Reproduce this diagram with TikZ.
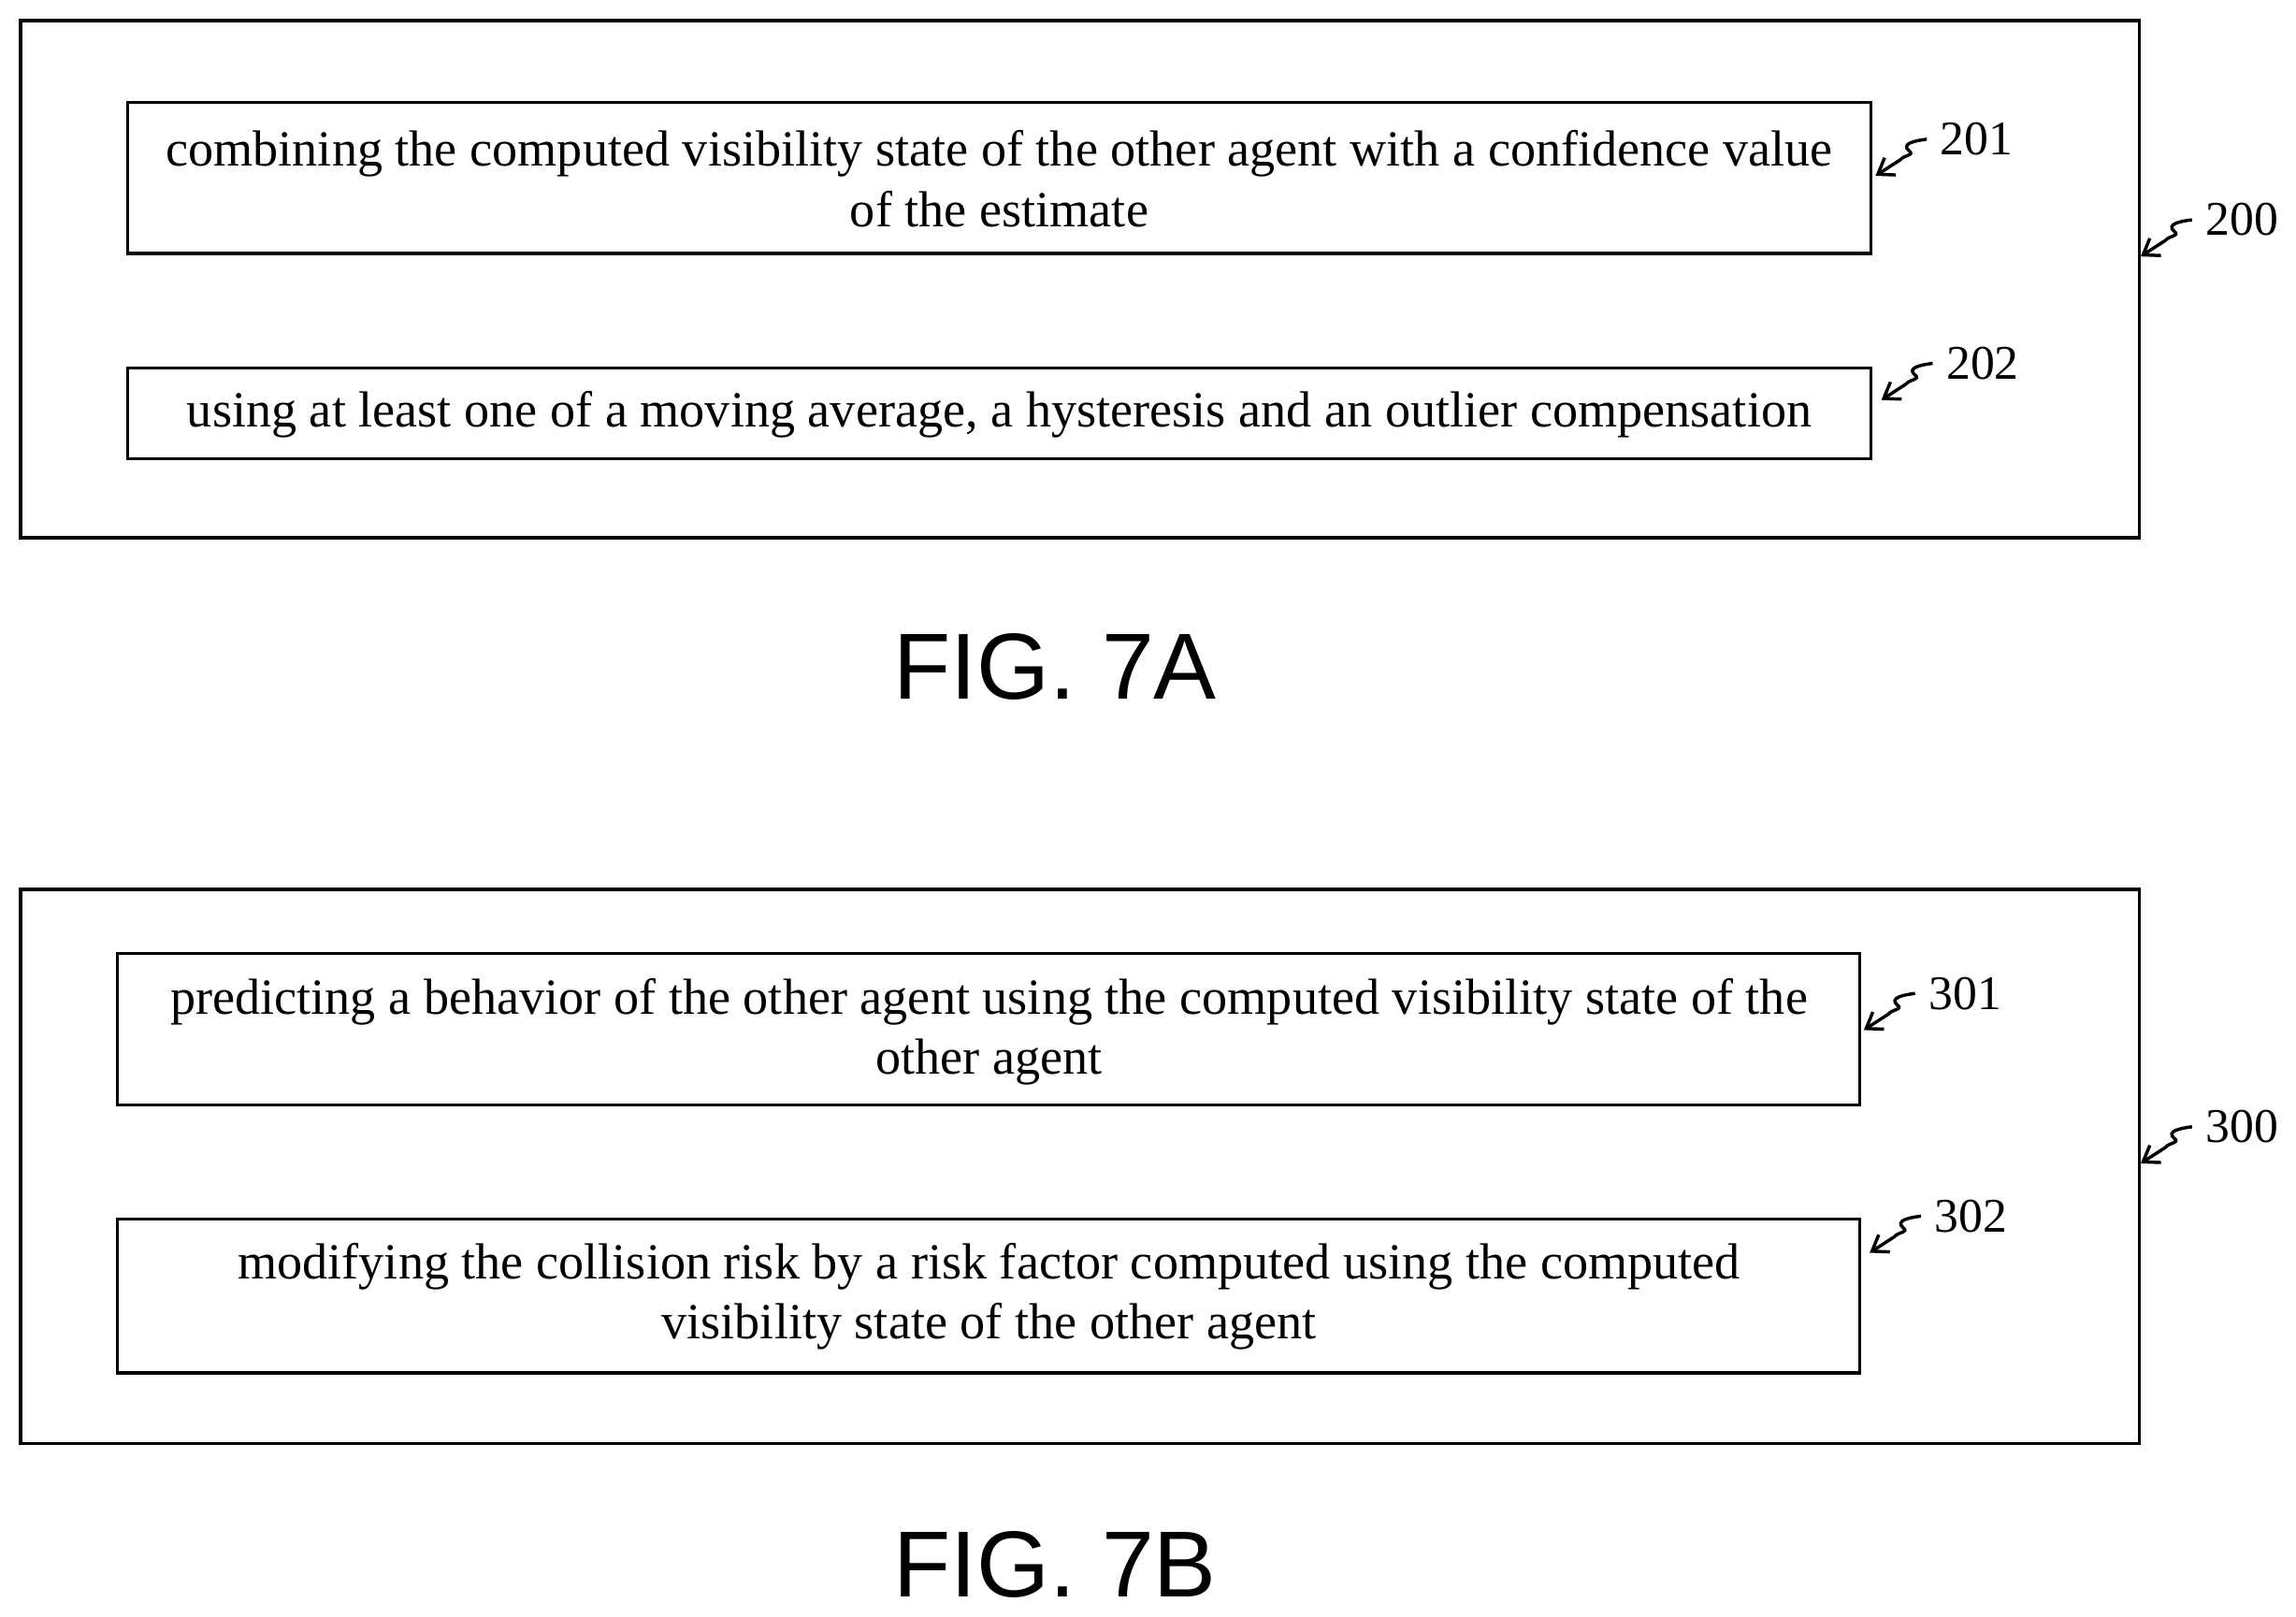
\documentclass[tikz,border=0pt]{standalone}
\usepackage{fontspec}
\setmainfont{Liberation Serif}
\setsansfont{Liberation Sans}
\usetikzlibrary{arrows.meta}
\begin{document}
\begin{tikzpicture}[x=0.5pt,y=-0.5pt,
  box/.style={draw,line width=1pt},
  txt/.style={font=\fontsize{17.3}{20.5}\selectfont,align=center},
  lab/.style={font=\fontsize{16.5}{18}\selectfont,anchor=west,inner sep=0},
  sq/.style={line width=1.1pt,-{Straight Barb[length=5pt,width=7pt]}},
  fig/.style={font=\sffamily\fontsize{32}{34}\selectfont}]
\useasboundingbox (0,0) rectangle (1567,1103);
\draw[box] (14,14) rectangle (1460,367);
\draw[box] (87,70) rectangle (1277,173);
\draw[box] (87,251) rectangle (1277,313);
\node[txt] (t201) at (682,122) {combining the computed visibility state of the other agent with a confidence value\\of the estimate};
\node[txt] (t202) at (682,283) {using at least one of a moving average, a hysteresis and an outlier compensation};
\draw[box] (14,607) rectangle (1460,985);
\draw[box] (80,651) rectangle (1269,754);
\draw[box] (80,832) rectangle (1269,937);
\node[txt] (t301) at (675,704) {predicting a behavior of the other agent using the computed visibility state of the\\other agent};
\node[txt] (t302) at (675,885) {modifying the collision risk by a risk factor computed using the computed\\visibility state of the other agent};
\node[fig] (fa) at (720,455) {FIG. 7A};
\node[fig] (fb) at (720,1068) {FIG. 7B};
\foreach \n/\x/\y in {201/1324/95,202/1328/248,200/1505/150,301/1316/678,302/1320/830,300/1505/769}{
  \node[lab] (l\n) at (\x,\y) {\n};
  \coordinate (s\n) at (\x-9,\y);
  \draw[sq] (s\n) .. controls ++(-8,1) and ++(-6,-5) .. ++(-12,8) .. controls ++(4,3) and ++(2,-3) .. ++(-6,6) -- ++(-17,11);
}
\end{tikzpicture}
\end{document}
